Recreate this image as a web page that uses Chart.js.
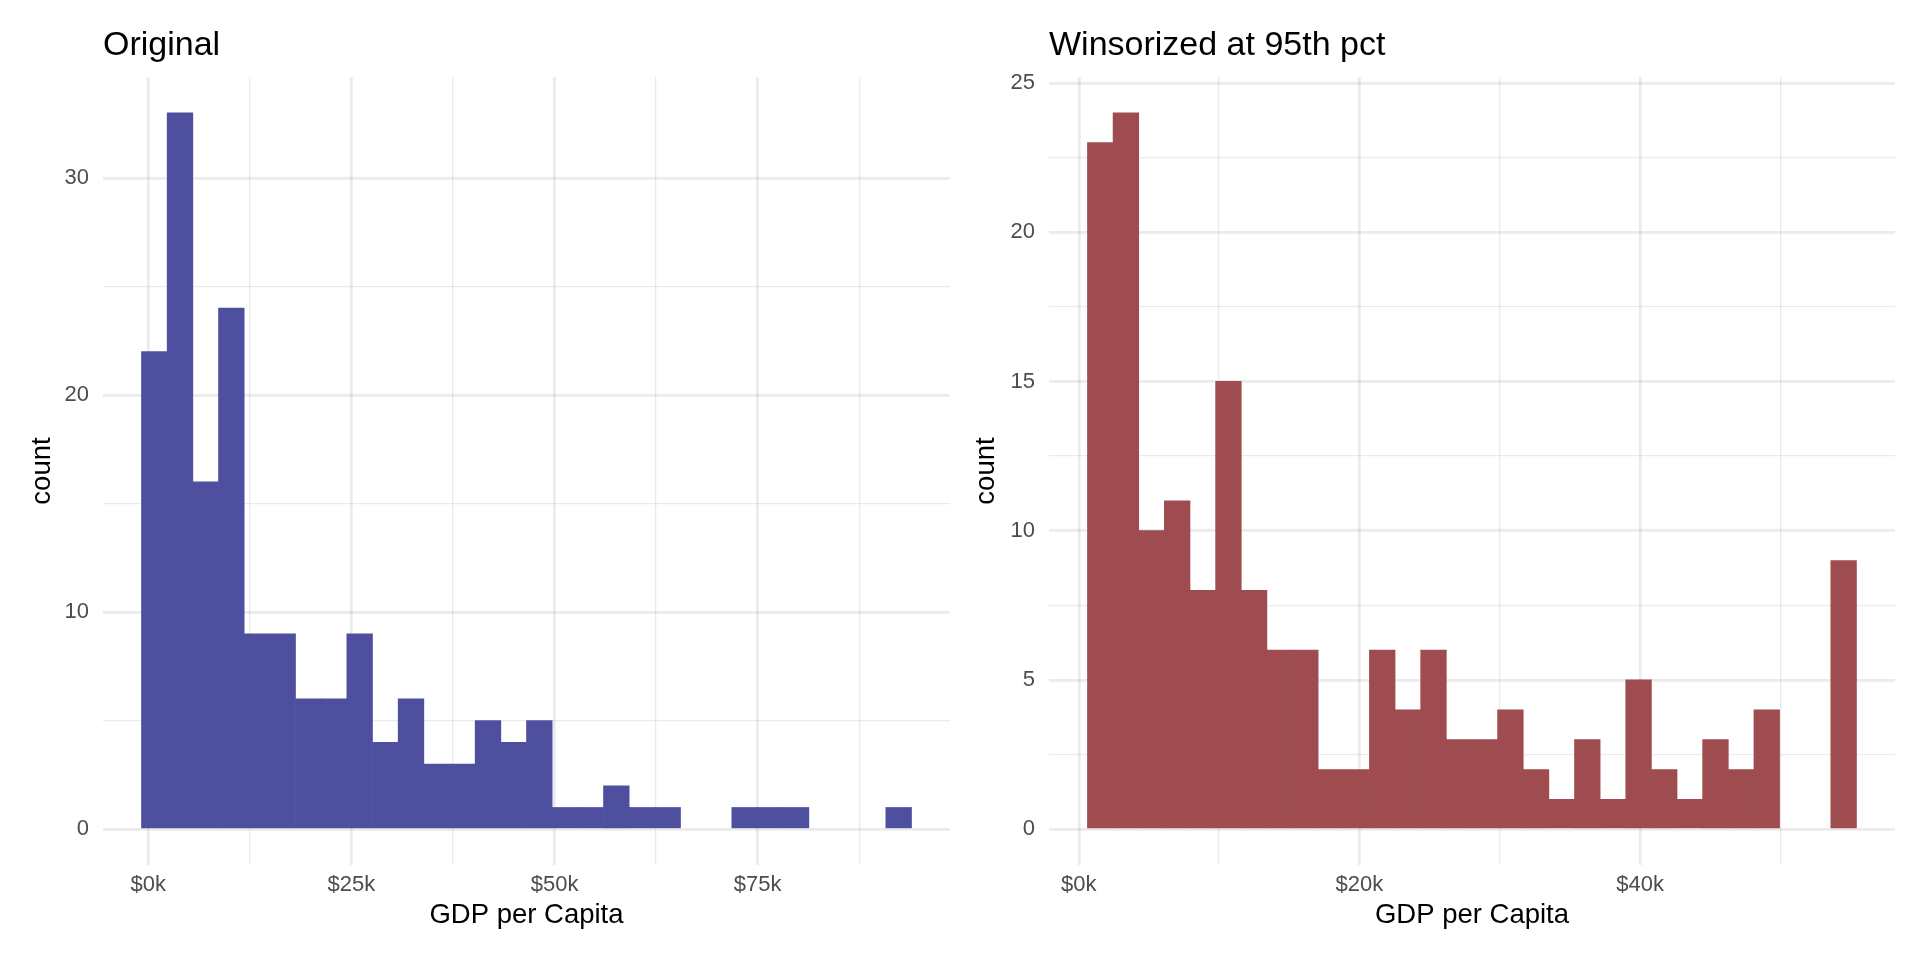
<!DOCTYPE html>
<html>
<head>
<meta charset="utf-8">
<script src="https://cdn.jsdelivr.net/npm/chart.js@4.4.0/dist/chart.umd.min.js"></script>
<style>
  html, body { margin: 0; padding: 0; background: #fff; }
  .wrap { display: flex; width: 1920px; height: 960px; }
  canvas { display: block; }
</style>
</head>
<body>
<div class="wrap">
  <canvas id="orig" width="960" height="960"></canvas>
  <canvas id="wins" width="960" height="960"></canvas>
</div>
<script>
// 30 bins per panel, counts
const origBinStart = -837
const origBinWidth = 3159
const origCounts = [22, 33, 16, 24, 9, 9, 6, 6, 9, 4, 6, 3, 3, 5, 4, 5, 1, 1, 2, 1, 1, 0, 0, 1, 1, 1, 0, 0, 0, 1]

const winsBinStart = 614
const winsBinWidth = 1827
const winsCounts = [23, 24, 10, 11, 8, 15, 8, 6, 6, 2, 2, 6, 4, 6, 3, 3, 4, 2, 1, 3, 1, 5, 2, 1, 3, 2, 4, 0, 0, 9]

// ticks (major get labels, minor only a grid line)
const origXMajor = [0, 25000, 50000, 75000]
const origXMinor = [12500, 37500, 62500, 87500]
const origYMajor = [0, 10, 20, 30]
const origYMinor = [5, 15, 25]

const winsXMajor = [0, 20000, 40000]
const winsXMinor = [10000, 30000, 50000]
const winsYMajor = [0, 5, 10, 15, 20, 25]
const winsYMinor = [2.5, 7.5, 12.5, 17.5, 22.5]

const FONT = "'Liberation Sans', Arial, Helvetica, sans-serif"
const GRID = 'rgba(0,0,0,0.078)'

const money = v => '$' + Math.round(v / 1000) + 'k'

// panel title, left aligned with the plot area like ggplot
const panelTitle = {
  id: 'panelTitle',
  afterDraw(chart, args, opts) {
    const { ctx, chartArea } = chart
    ctx.save()
    ctx.font = '34px ' + FONT
    ctx.fillStyle = '#000'
    ctx.textAlign = 'left'
    ctx.textBaseline = 'alphabetic'
    ctx.fillText(opts.text, chartArea.left, 55)
    ctx.restore()
  }
}

function makeHist(id, p) {
  // empty bins are left out so no sliver gets drawn on the baseline
  const bins = p.counts.map((c, i) => ({ x: p.binStart + (i + 0.5) * p.binWidth, y: c === 0 ? null : c }))
  const xTicks = [...p.xMajor, ...p.xMinor].sort((a, b) => a - b)
  const yTicks = [...p.yMajor, ...p.yMinor].sort((a, b) => a - b)

  return new Chart(document.getElementById(id), {
    type: 'bar',
    data: {
      datasets: [{
        data: bins,
        backgroundColor: p.color,
        borderWidth: 0,
        barPercentage: 1,
        categoryPercentage: 1
      }]
    },
    plugins: [panelTitle],
    options: {
      responsive: false,
      animation: false,
      devicePixelRatio: 1,
      layout: { padding: { top: 77, left: 0, right: p.padRight, bottom: 0 } },
      plugins: {
        legend: { display: false },
        tooltip: { enabled: false },
        panelTitle: { text: p.title }
      },
      scales: {
        x: {
          type: 'linear',
          offset: false,
          min: p.xRange[0],
          max: p.xRange[1],
          z: 1,
          afterBuildTicks: s => { s.ticks = xTicks.map(v => ({ value: v })) },
          afterFit: s => { s.height = 95 },
          ticks: {
            callback: v => p.xMajor.includes(v) ? money(v) : '',
            font: { family: FONT, size: 22 },
            color: '#4D4D4D',
            padding: 7,
            maxRotation: 0,
            autoSkip: false
          },
          grid: {
            offset: false,
            color: GRID,
            lineWidth: c => (c.tick && p.xMajor.includes(c.tick.value)) ? 2.67 : 1.33,
            drawTicks: false
          },
          border: { display: false },
          title: {
            display: true,
            text: 'GDP per Capita',
            font: { family: FONT, size: 27.5 },
            color: '#000',
            padding: { top: 0, bottom: 28.5 }
          }
        },
        y: {
          min: p.yRange[0],
          max: p.yRange[1],
          z: 1,
          afterBuildTicks: s => { s.ticks = yTicks.map(v => ({ value: v })) },
          afterFit: s => { s.width = p.yAxisWidth },
          ticks: {
            callback: v => p.yMajor.includes(v) ? String(v) : '',
            font: { family: FONT, size: 22 },
            color: '#4D4D4D',
            padding: 14,
            autoSkip: false
          },
          grid: {
            color: GRID,
            lineWidth: c => (c.tick && p.yMajor.includes(c.tick.value)) ? 2.67 : 1.33,
            drawTicks: false
          },
          border: { display: false },
          title: {
            display: true,
            text: 'count',
            font: { family: FONT, size: 27.5 },
            color: '#000',
            padding: { top: p.yTitlePad, bottom: 0 }
          }
        }
      }
    }
  })
}

makeHist('orig', {
  title: 'Original',
  counts: origCounts, binStart: origBinStart, binWidth: origBinWidth,
  xMajor: origXMajor, xMinor: origXMinor, yMajor: origYMajor, yMinor: origYMinor,
  xRange: [-5576, 98670], yRange: [-1.65, 34.65],
  color: '#4E4F9F',
  padRight: 10, yAxisWidth: 103, yTitlePad: 26.3
})

makeHist('wins', {
  title: 'Winsorized at 95th pct',
  counts: winsCounts, binStart: winsBinStart, binWidth: winsBinWidth,
  xMajor: winsXMajor, xMinor: winsXMinor, yMajor: winsYMajor, yMinor: winsYMinor,
  xRange: [-2127, 58170], yRange: [-1.2, 25.2],
  color: '#9E4C4F',
  padRight: 25, yAxisWidth: 89, yTitlePad: 10
})
</script>
</body>
</html>
